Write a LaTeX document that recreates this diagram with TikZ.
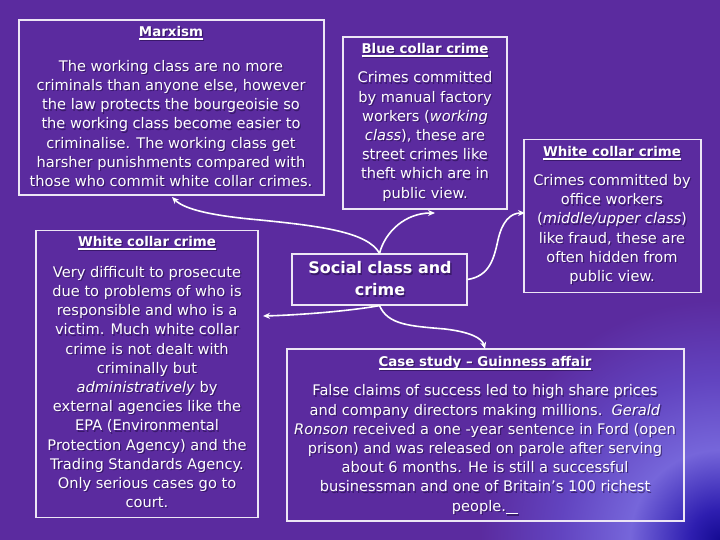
\documentclass[tikz,border=0pt]{standalone}
\usepackage{fontspec}
\setmainfont{DejaVu Sans}
\usetikzlibrary{arrows.meta}
\definecolor{bgp}{HTML}{5B2B9F}
\definecolor{cdark}{HTML}{140A92}
\definecolor{cmid}{HTML}{2E1EB0}
\definecolor{clight}{HTML}{7666DA}
\definecolor{cmidtwo}{HTML}{6244C0}
\definecolor{boxc}{HTML}{EDE6F5}
\definecolor{shadc}{HTML}{1E0A40}
\pgfdeclareradialshading{cornerglow}{\pgfpoint{0bp}{0bp}}{color(0bp)=(cdark); color(1.5bp)=(cmid); color(4.5bp)=(clight); color(8bp)=(cmidtwo); color(12bp)=(bgp); color(50bp)=(bgp)}
\newcommand{\tul}[1]{\setbox0\hbox{#1}\leavevmode\rlap{\rule[-3.2pt]{\wd0}{1.3pt}}\box0}
\newcommand{\stext}[4]{%
  \node[txt,#3,text=shadc,opacity=.55] (#1s) at ([xshift=1.3pt,yshift=-1.3pt]#2) {#4};
  \node[txt,#3] (#1) at (#2) {#4};}
\begin{document}
\begin{tikzpicture}[x=1pt,y=-1pt,
  box/.style={draw=boxc,line width=1.2pt,inner sep=0pt},
  txt/.style={text=white,align=center,inner sep=0pt,font=\fontsize{14.6}{19.2}\selectfont},
  ttl/.style={font=\bfseries\fontsize{13.4}{16}\selectfont},
  big/.style={font=\bfseries\fontsize{16}{22}\selectfont},
  conn/.style={draw=white,line width=1.6pt,-{Stealth[length=7pt,width=6pt]}}]
\useasboundingbox (0,0) rectangle (720,540);
\begin{scope}
\clip (0,0) rectangle (720,540);
\fill[bgp] (0,0) rectangle (720,540);
\shade[shading=cornerglow] (720,540) circle[radius=500pt];
\end{scope}
% boxes
\node[box,minimum width=305pt,minimum height=175pt] (marx) at (171.5,107.5) {};
\node[box,minimum width=164pt,minimum height=172pt] (blue) at (425,123) {};
\node[box,minimum width=177pt,minimum height=153pt] (wcr) at (612.5,216) {};
\node[box,minimum width=175pt,minimum height=51pt] (sc) at (379.5,279.5) {};
\node[box,minimum width=222pt,minimum height=287pt] (wcl) at (147,374) {};
\node[box,minimum width=397pt,minimum height=172pt] (case) at (485.5,435) {};
% texts
\stext{marxT}{171,33}{ttl}{\tul{Marxism}}
\stext{marxB}{171,123.5}{}{The working class are no more\\criminals than anyone else, however\\the law protects the bourgeoisie so\\the working class become easier to\\criminalise. The working class get\\harsher punishments compared with\\those who commit white collar crimes.}
\stext{blueT}{425,50}{ttl}{\tul{Blue collar crime}}
\stext{blueB}{425,136.5}{}{Crimes committed\\by manual factory\\workers (\emph{working}\\\emph{class}), these are\\street crimes like\\theft which are in\\public view.}
\stext{wcrT}{612,153}{ttl}{\tul{White collar crime}}
\stext{wcrB}{612,229.5}{}{Crimes committed by\\office workers\\(\emph{middle/upper class})\\like fraud, these are\\often hidden from\\public view.}
\stext{scT}{380,279}{big}{Social class and\\crime}
\stext{wclT}{147,243}{ttl}{\tul{White collar crime}}
\stext{wclB}{147,387}{}{Very difficult to prosecute\\due to problems of who is\\responsible and who is a\\victim. Much white collar\\crime is not dealt with\\criminally but\\\emph{administratively} by\\external agencies like the\\EPA (Environmental\\Protection Agency) and the\\Trading Standards Agency.\\Only serious cases go to\\court.}
\stext{caseT}{485,363}{ttl}{\tul{Case study -- Guinness affair}}
\stext{caseB}{485,449.5}{}{False claims of success led to high share prices\\and company directors making millions.\ \ \emph{Gerald}\\\emph{Ronson} received a one -year sentence in Ford (open\\prison) and was released on parole after serving\\about 6 months. He is still a successful\\businessman and one of Britain's 100 richest\\people.\tul{\hspace{12pt}}}
% connector tips
\coordinate (tM) at (172,197);
\coordinate (tB) at (435,213);
\coordinate (tW) at (525,213);
\coordinate (tL) at (263,316);
\coordinate (tC) at (485,349);
% connectors
\draw[conn] (sc.north) .. controls (368,232) and (320,226) .. (260,220) .. controls (215,216) and (185,210) .. (tM);
\draw[conn] (sc.north) .. controls (385,232) and (405,213) .. (tB);
\draw[conn] (sc.east) .. controls (490,276) and (494,258) .. (498,240) .. controls (502,222) and (510,213) .. (tW);
\draw[conn] (sc.south) .. controls (350,311) and (300,315) .. (tL);
\draw[conn] (sc.south) .. controls (388,325) and (410,326) .. (445,329) .. controls (470,332) and (482,338) .. (tC);
\end{tikzpicture}
\end{document}
